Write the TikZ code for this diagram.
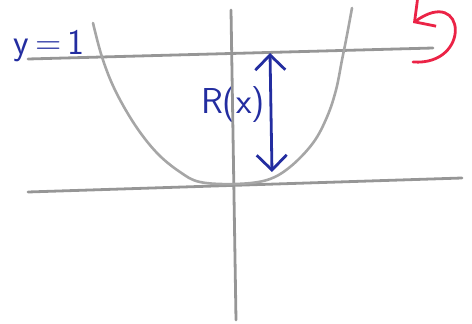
\documentclass[tikz,border=0pt]{standalone}
\usepackage{tikz}
\usetikzlibrary{arrows.meta}
\usepackage{xcolor}
\definecolor{penblue}{RGB}{35,45,160}
\definecolor{penred}{RGB}{235,35,70}
\definecolor{pencil}{RGB}{150,150,150}

\begin{document}
\begin{tikzpicture}[x=1pt, y=-1pt, line cap=round,
    axis/.style={draw=pencil, line width=2.8pt},
    curve/.style={draw=pencil!85, line width=2.6pt},
    radius/.style={draw=penblue, line width=2.8pt, {Straight Barb[length=15pt,width=30pt]}-{Straight Barb[length=15pt,width=30pt]}},
    turn/.style={draw=penred, line width=2.8pt, -{Straight Barb[length=15pt,width=32pt]}},
    hand/.style={text=penblue, font=\sffamily\fontsize{36}{38}\selectfont, inner sep=0pt}]
   \useasboundingbox (0,0) rectangle (472,324);
   \coordinate (xl) at (28,192);
   \coordinate (xr) at (462,178);
   \coordinate (yt) at (231,10);
   \coordinate (yb) at (236,320);
   \coordinate (ol) at (28,59);
   \coordinate (or) at (433,48);
   \coordinate (rt) at (270,53);
   \coordinate (rb) at (272,172);
   \coordinate (ts) at (413,62);
   \coordinate (te) at (413,23);
   \node[hand] (ylab) at (49,46) {y\,=\,1};
   \node[hand] (rlab) at (233,105) {R(x)};
   \draw[axis] (xl) -- (xr);
   \draw[axis] (yt) -- (yb);
   \draw[axis] (ol) -- (or);
   \draw[curve] plot[smooth, tension=0.6] coordinates {(93,23) (102,57) (115,90) (135,125) (157,153) (180,172) (200,182) (235,184) (267,180) (290,167) (313,143) (327,117) (336,90) (342,60) (347,35) (352,8)};
   \draw[radius] (rt) -- (rb);
   \draw[turn] (ts) .. controls (472,66) and (466,-15) .. (te);
\end{tikzpicture}
\end{document}
